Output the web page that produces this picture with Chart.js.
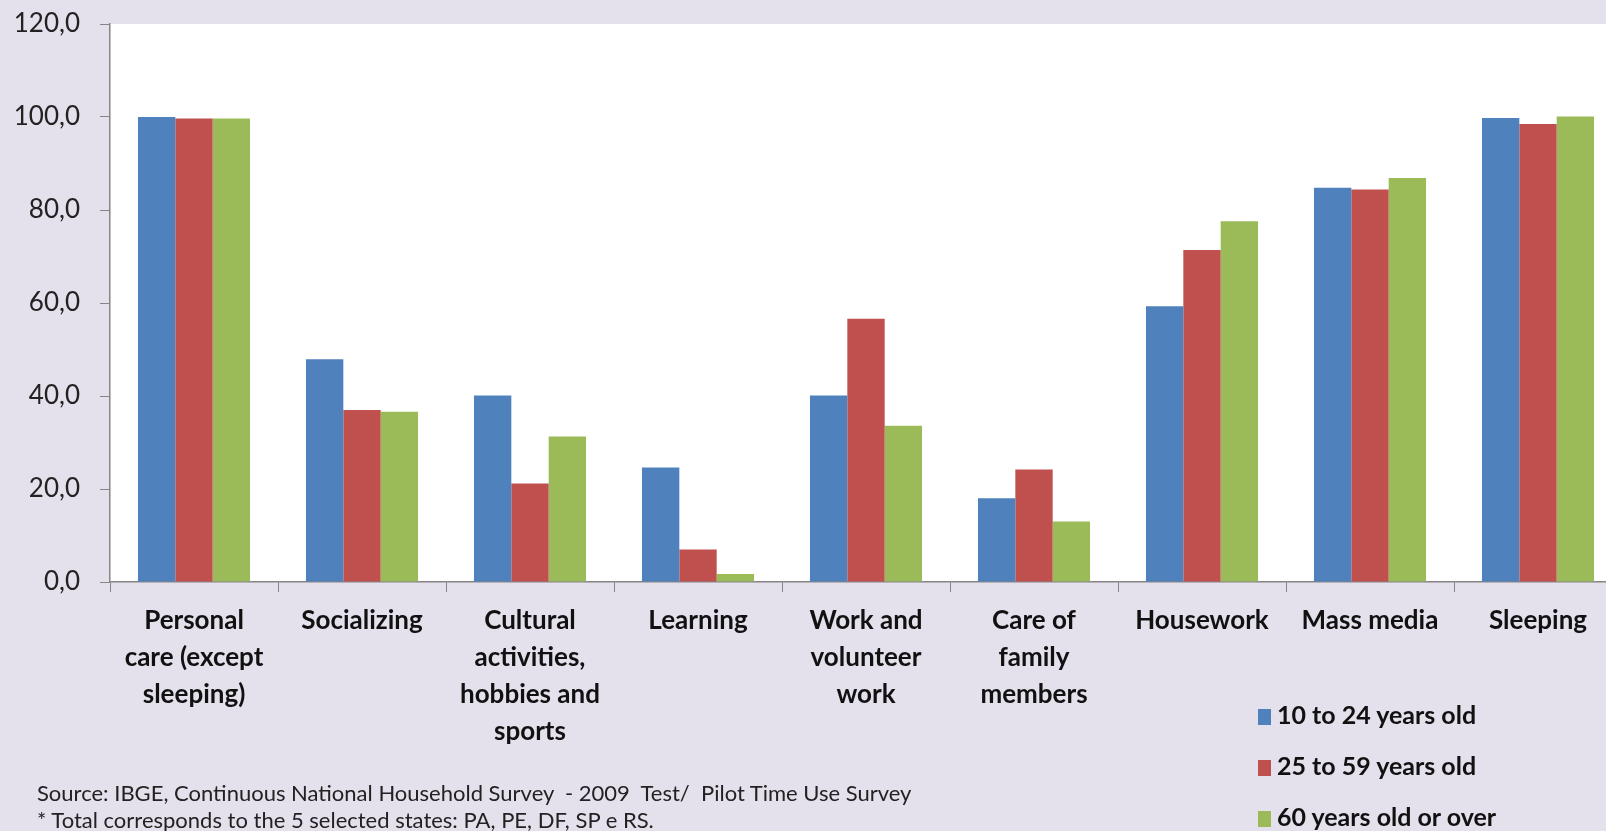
<!DOCTYPE html>
<html>
<head>
<meta charset="utf-8">
<script src="https://cdn.jsdelivr.net/npm/chart.js@4/dist/chart.umd.min.js"></script>
<style>
  html, body { margin: 0; padding: 0; overflow: hidden; background: #e4e0ec; }
  #wrap { position: relative; width: 1606px; height: 831px; overflow: hidden; }
  #box { position: absolute; left: 0; top: 0; width: 1624px; height: 831px; }
  .note { position: absolute; left: 37px; font: 22px Lato, sans-serif; color: #222; white-space: pre; }
  #legend { position: absolute; left: 1258px; top: 697px; font: bold 25px Lato, sans-serif; color: #111; }
  #legend div { height: 51px; line-height: 34px; white-space: nowrap; }
  #legend span { display: inline-block; width: 13px; height: 16px; margin-right: 6px; vertical-align: -1px; }
</style>
</head>
<body>
<div id="wrap">
  <div id="box"><canvas id="myChart"></canvas></div>
  <div class="note" style="top:779px">Source: IBGE, Continuous National Household Survey  - 2009  Test/  Pilot Time Use Survey</div>
  <div class="note" style="top:806px">* Total corresponds to the 5 selected states: PA, PE, DF, SP e RS.</div>
  <div id="legend"></div>
</div>
<script>
const categories = [
  ['Personal', 'care (except', 'sleeping)'],
  ['Socializing'],
  ['Cultural', 'activities,', 'hobbies and', 'sports'],
  ['Learning'],
  ['Work and', 'volunteer', 'work'],
  ['Care of', 'family', 'members'],
  ['Housework'],
  ['Mass media'],
  ['Sleeping']
];
const seriesNames = ['10 to 24 years old', '25 to 59 years old', '60 years old or over'];
const age10to24 = [100.0, 47.9, 40.1, 24.6, 40.1, 18.0, 59.3, 84.8, 99.8];
const age25to59 = [99.7, 37.0, 21.2, 7.0, 56.6, 24.2, 71.4, 84.4, 98.5];
const age60plus = [99.7, 36.6, 31.3, 1.7, 33.6, 13.0, 77.6, 86.9, 100.1];
const colors = ['#4f81bd', '#c0504d', '#9bbb59'];

const plotBg = {
  id: 'plotBg',
  beforeDraw(chart) {
    const a = chart.chartArea;
    chart.ctx.save();
    chart.ctx.fillStyle = '#ffffff';
    chart.ctx.fillRect(a.left, a.top, a.right - a.left, a.bottom - a.top);
    chart.ctx.restore();
  }
};

const ctx = document.getElementById('myChart');
const chart = new Chart(ctx, {
  type: 'bar',
  data: {
    labels: categories,
    datasets: [age10to24, age25to59, age60plus].map((d, i) => ({
      label: seriesNames[i],
      data: d,
      backgroundColor: colors[i],
      borderWidth: 0,
      categoryPercentage: 0.667,
      barPercentage: 1.0
    }))
  },
  options: {
    responsive: true,
    maintainAspectRatio: false,
    animation: false,
    layout: { padding: { top: 24, right: 2, left: 0, bottom: 0 } },
    plugins: { legend: { display: false }, tooltip: { enabled: false } },
    scales: {
      x: {
        grid: { drawOnChartArea: false, tickLength: 10, color: '#868686', offset: true },
        border: { color: '#868686', width: 1.5 },
        ticks: {
          color: '#111',
          font: { family: 'Lato', size: 26, weight: 'bold', lineHeight: 1.42 },
          padding: 10,
          maxRotation: 0,
          autoSkip: false
        },
        afterFit(scale) { scale.height = 249; scale.paddingLeft = 0; scale.paddingRight = 0; }
      },
      y: {
        min: 0,
        max: 120,
        grid: { drawOnChartArea: false, tickLength: 10, color: '#868686' },
        border: { color: '#868686', width: 1.5 },
        ticks: {
          stepSize: 20,
          color: '#222',
          padding: 20,
          font: { family: 'Lato', size: 26 },
          callback: v => v.toFixed(1).replace('.', ',')
        },
        afterFit(scale) { scale.width = 110; scale.paddingTop = 0; scale.paddingBottom = 0; }
      }
    }
  },
  plugins: [plotBg]
});

const legend = document.getElementById('legend');
seriesNames.forEach((name, i) => {
  const row = document.createElement('div');
  row.innerHTML = '<span style="background:' + colors[i] + '"></span>' + name;
  legend.appendChild(row);
});
</script>
</body>
</html>
